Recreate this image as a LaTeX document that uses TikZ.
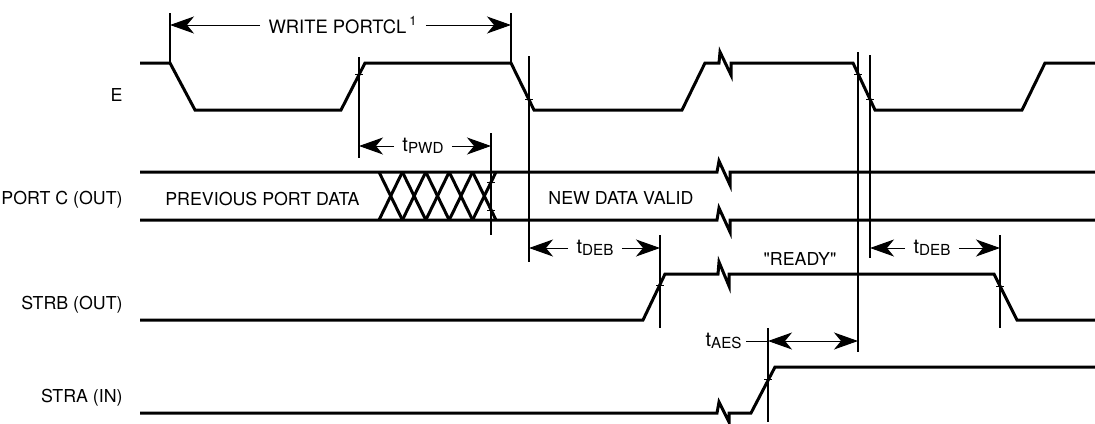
\documentclass[tikz,border=0pt]{standalone}
\usepackage{fontspec}
\setmainfont{TeX Gyre Heros}[Ligatures=TeXOff]
\usetikzlibrary{arrows.meta,positioning}
\tikzstyle{signal}=[line width=1.5pt,line join=miter]
\tikzstyle{guide}=[line width=0.6pt]
\tikzstyle{tmk}=[line width=0.5pt]
\tikzstyle{dim}=[line width=0.5pt,-{Stealth[length=12pt,width=8.5pt,inset=3.5pt]}]
\tikzstyle{dimboth}=[line width=0.5pt,{Stealth[length=12pt,width=8.5pt,inset=3.5pt]}-{Stealth[length=12pt,width=8.5pt,inset=3.5pt]}]
\tikzstyle{siglabel}=[anchor=east,inner sep=0pt,font=\fontsize{8.9}{10}\selectfont]
\tikzstyle{txt}=[inner sep=0pt,font=\fontsize{8.9}{10}\selectfont]
\tikzstyle{dimlabel}=[inner ysep=0pt,inner xsep=4pt,font=\fontsize{9.2}{10}\selectfont]
\newcommand{\tdly}[1]{{\fontsize{10}{12}\selectfont t}\raisebox{-1.2pt}{\fontsize{7.6}{9}\selectfont #1}}
\newcommand{\tmark}[2]{\draw[tmk] (#1-4,#2) -- (#1+4,#2);}

\begin{document}
\begin{tikzpicture}[x=0.5pt,y=-0.5pt]
            \useasboundingbox (0,0) rectangle (1095,423);

            % SIGNAL NAMES

            \node[siglabel] (lE)    at (123,95)  {E};
            \node[siglabel] (lPC)   at (123,200) {PORT C (OUT)};
            \node[siglabel] (lSTRB) at (123,305) {STRB (OUT)};
            \node[siglabel] (lSTRA) at (123,398) {STRA (IN)};

            % E PART

            \draw[signal] (140,63) -- (170,63) -- (195,110) -- (341,110) -- (365,63)
                -- (511,63) -- (534,110) -- (682,110) -- (705,63) -- (719,63)
                -- (720,52) -- (731,75) -- (731,63) -- (853,63) -- (875,110)
                -- (1022,110) -- (1045,63) -- (1095,63);

            % PORT C PART

            \draw[signal] (140,172) -- (717,172) -- (719,161) -- (730,185) -- (730,172) -- (1095,172);
            \draw[signal] (140,220) -- (717,220) -- (719,208) -- (730,232) -- (730,220) -- (1095,220);
            \foreach \i in {0,...,4} {
                \draw[signal] (379+23.4*\i,172) -- (402.4+23.4*\i,220);
                \draw[signal] (379+23.4*\i,220) -- (402.4+23.4*\i,172);
            }
            \node[txt,anchor=east] (prev) at (360,199) {PREVIOUS PORT DATA};
            \node[txt,anchor=west] (newd) at (548,198) {NEW DATA VALID};

            % STRB PART

            \draw[signal] (140,320) -- (643,320) -- (665,274) -- (718,274) -- (719,262)
                -- (729,286) -- (729,274) -- (994,274) -- (1017,320) -- (1095,320);
            \node[txt] (ready) at (800,259) {"READY"};

            % STRA PART

            \draw[signal] (140,413) -- (717,413) -- (719,402) -- (729,422) -- (729,413)
                -- (751,413) -- (775,367) -- (1095,367);

            % Guide lines

            \coordinate (g1t) at (170,13);   \coordinate (g1b) at (170,63);
            \coordinate (g2t) at (511,13);   \coordinate (g2b) at (511,63);
            \coordinate (g3t) at (359,57);   \coordinate (g3b) at (359,158);
            \coordinate (g4t) at (529,56);   \coordinate (g4b) at (529,262);
            \coordinate (g5t) at (491,133);  \coordinate (g5b) at (491,235);
            \coordinate (g6t) at (660,235);  \coordinate (g6b) at (660,328);
            \coordinate (g7t) at (858,52);   \coordinate (g7b) at (858,352);
            \coordinate (g8t) at (870,55);   \coordinate (g8b) at (870,258);
            \coordinate (g9t) at (1000,235); \coordinate (g9b) at (1000,328);
            \coordinate (g10t) at (768,328); \coordinate (g10b) at (768,422);
            \foreach \g in {1,...,10}
                \draw[guide] (g\g t) -- (g\g b);

            \tmark{359}{74}
            \tmark{529}{99}
            \tmark{491}{182}
            \tmark{491}{210}
            \tmark{660}{285}
            \tmark{858}{74}
            \tmark{870}{99}
            \tmark{1000}{286}
            \tmark{768}{379}

            % Timing PART

            \node[dimlabel] (wr) at (343,25) {WRITE PORTCL\,\textsuperscript{1}};
            \coordinate (wrL) at (170,25); \coordinate (wrR) at (511,25);
            \draw[dim] (wr.west) -- (wrL);
            \draw[dim] (wr.east) -- (wrR);

            \node[dimlabel] (pwd) at (423,146) {\tdly{PWD}};
            \coordinate (pwdL) at (359,146); \coordinate (pwdR) at (491,146);
            \draw[dim] (pwd.west) -- (pwdL);
            \draw[dim] (pwd.east) -- (pwdR);

            \node[dimlabel] (deb1) at (595,248) {\tdly{DEB}};
            \coordinate (deb1L) at (529,248); \coordinate (deb1R) at (660,248);
            \draw[dim] (deb1.west) -- (deb1L);
            \draw[dim] (deb1.east) -- (deb1R);

            \node[dimlabel] (deb2) at (932,248) {\tdly{DEB}};
            \coordinate (deb2L) at (870,248); \coordinate (deb2R) at (1000,248);
            \draw[dim] (deb2.west) -- (deb2L);
            \draw[dim] (deb2.east) -- (deb2R);

            \node[dimlabel,anchor=east,inner xsep=2pt] (aes) at (746,341) {\tdly{AES}};
            \coordinate (aesL) at (768,341); \coordinate (aesR) at (858,341);
            \draw[line width=0.5pt] (aes.east) -- (aesL);
            \draw[dimboth] (aesL) -- (aesR);

\end{tikzpicture}
\end{document}
